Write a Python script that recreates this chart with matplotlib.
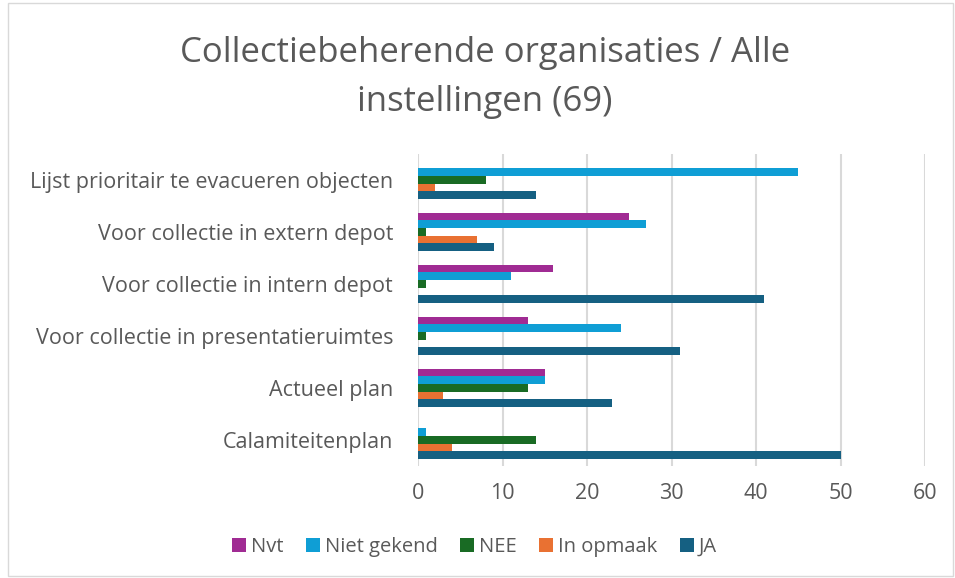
import numpy as np
import matplotlib
matplotlib.use('Agg')
import matplotlib.pyplot as plt

plt.rcParams['font.family'] = ['Open Sans', 'DejaVu Sans']

# categories, bottom to top as in the chart
categories = ['Calamiteitenplan', 'Actueel plan', 'Voor collectie in presentatieruimtes',
              'Voor collectie in intern depot', 'Voor collectie in extern depot',
              'Lijst prioritair te evacueren objecten']
series_names = ['Nvt', 'Niet gekend', 'NEE', 'In opmaak', 'JA']
nvt = [0, 15, 13, 16, 25, 0]
niet_gekend = [1, 15, 24, 11, 27, 45]
nee = [14, 13, 1, 1, 1, 8]
in_opmaak = [4, 3, 0, 0, 7, 2]
ja = [50, 23, 31, 41, 9, 14]
colors = ['#A02B93', '#0F9ED5', '#196B24', '#E97132', '#156082']

values = [nvt, niet_gekend, nee, in_opmaak, ja]
text_col = '#595959'

fig = plt.figure(figsize=(9.55, 5.78), dpi=100)
ax = fig.add_axes([0.4377, 0.194, 0.5309, 0.5398])

y = np.arange(len(categories))
h = 0.146
for i, (name, vals, c) in enumerate(zip(series_names, values, colors)):
    offset = (2 - i) * h
    ax.barh(y + offset, vals, height=h, color=c, label=name, zorder=3)

ax.set_xlim(0, 60)
ax.set_ylim(-0.5, len(categories) - 0.5)
ax.set_xticks(range(0, 61, 10))
ax.set_yticks(y)
ax.set_yticklabels(categories)
ax.grid(axis='x', color='#D9D9D9', linewidth=1.5, zorder=0)
for s in ax.spines.values():
    s.set_visible(False)
ax.tick_params(length=0, labelsize=15.5, colors=text_col)
ax.tick_params(axis='y', pad=18)
ax.tick_params(axis='x', pad=12)

fig.text(0.508, 0.866, 'Collectiebeherende organisaties / Alle\ninstellingen (69)',
         ha='center', va='center', fontsize=25, color=text_col, linespacing=1.6)

fig.legend(loc='center', bbox_to_anchor=(0.497, 0.054), ncol=5, frameon=False,
           fontsize=14.5, labelcolor=text_col, handlelength=0.7, handleheight=0.7,
           handletextpad=0.25, columnspacing=1.1)

fig.patches.append(plt.Rectangle((0.008, 0.004), 0.99, 0.99, transform=fig.transFigure,
                                 fill=False, edgecolor='#D9D9D9', linewidth=1))

fig.savefig('out.png', dpi=100)
